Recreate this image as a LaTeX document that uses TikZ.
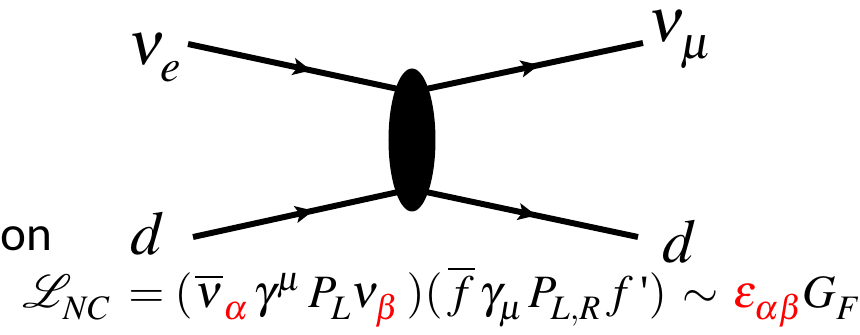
\documentclass[tikz,border=0pt]{standalone}
\usepackage{mathptmx}
\usepackage{fontspec}
\setmainfont{Liberation Serif}
\newfontfamily\calibrifont{Carlito}
\usepackage{tikz}
\usepackage[compat=1.1.0]{tikz-feynman}
\usetikzlibrary{shapes.geometric, decorations.markings, arrows.meta}

% subscripts sit lower than TeX puts them
\newcommand{\lowsubs}{\fontdimen16\textfont2=0.27em \fontdimen17\textfont2=0.27em}

\tikzset{
  leg/.style={font=\fontsize{44}{50}\selectfont, inner sep=0pt},
  lagr/.style={font=\fontsize{33}{38}\selectfont, inner sep=0pt},
  midarrow/.style={
    decoration={markings,
      mark=at position 0.55 with {\arrow{Stealth[length=0.45cm, width=0.42cm, inset=0.1cm]}}},
    postaction={decorate}},
}

\begin{document}
\begin{tikzpicture}
  \useasboundingbox (-10.3, 3.5) rectangle (11.2, -4.875);
  \clip (-10.3, 3.5) rectangle (11.2, -4.875);
  \begin{feynman}
    \vertex (v1) at (0, 1.2);
    \vertex (v2) at (0, -1.225);
    \vertex (i1) at (-5.6, 2.4);
    \vertex (i2) at (-5.475, -2.425);
    \vertex (f1) at (5.775, 2.425);
    \vertex (f2) at (5.65, -2.425);
    \draw[plain, midarrow, line width=4.25pt] (i1) -- (v1);
    \draw[plain, midarrow, line width=4.25pt] (v1) -- (f1);
    \draw[plain, midarrow, line width=4.25pt] (i2) -- (v2);
    \draw[plain, midarrow, line width=4.25pt] (v2) -- (f2);
    \node[ellipse, fill=black, minimum width=1.175cm, minimum height=3.575cm, inner sep=0pt] (blob) at (0, 0) {};
  \end{feynman}
  \node[leg, anchor=base west] (nue) at (-7.1, 1.875) {$\lowsubs\nu_{e}$};
  \node[leg, anchor=base west] (numu) at (5.9, 2.45) {$\lowsubs\nu_{\mu}$};
  \node[leg, anchor=base west] (din) at (-7.05, -2.875) {$d$};
  \node[leg, anchor=base west] (dout) at (6.25, -3.05) {$d$};
  \node[anchor=base east, inner sep=0pt, font=\calibrifont\fontsize{35}{40}\selectfont] (word) at (-8.975, -2.75) {on};
  \node[lagr, anchor=base west] (lnc) at (-9.75, -4.175)
    {$\lowsubs\mathcal{L}_{NC}\mkern3mu=(\mkern1mu\overline{\nu}_{\color{red}\alpha}\mkern2mu\gamma^{\mu}\mkern3mu P_{L}\nu_{\color{red}\beta}\mkern3mu)(\mkern2mu\overline{f}\mkern2mu\gamma_{\mu}\mkern2mu P_{L,R}\mkern2mu f\mkern3mu\mbox{\textquotesingle})\,\sim\,{\color{red}\varepsilon_{\alpha\beta}}G_{F}$};
\end{tikzpicture}
\end{document}
